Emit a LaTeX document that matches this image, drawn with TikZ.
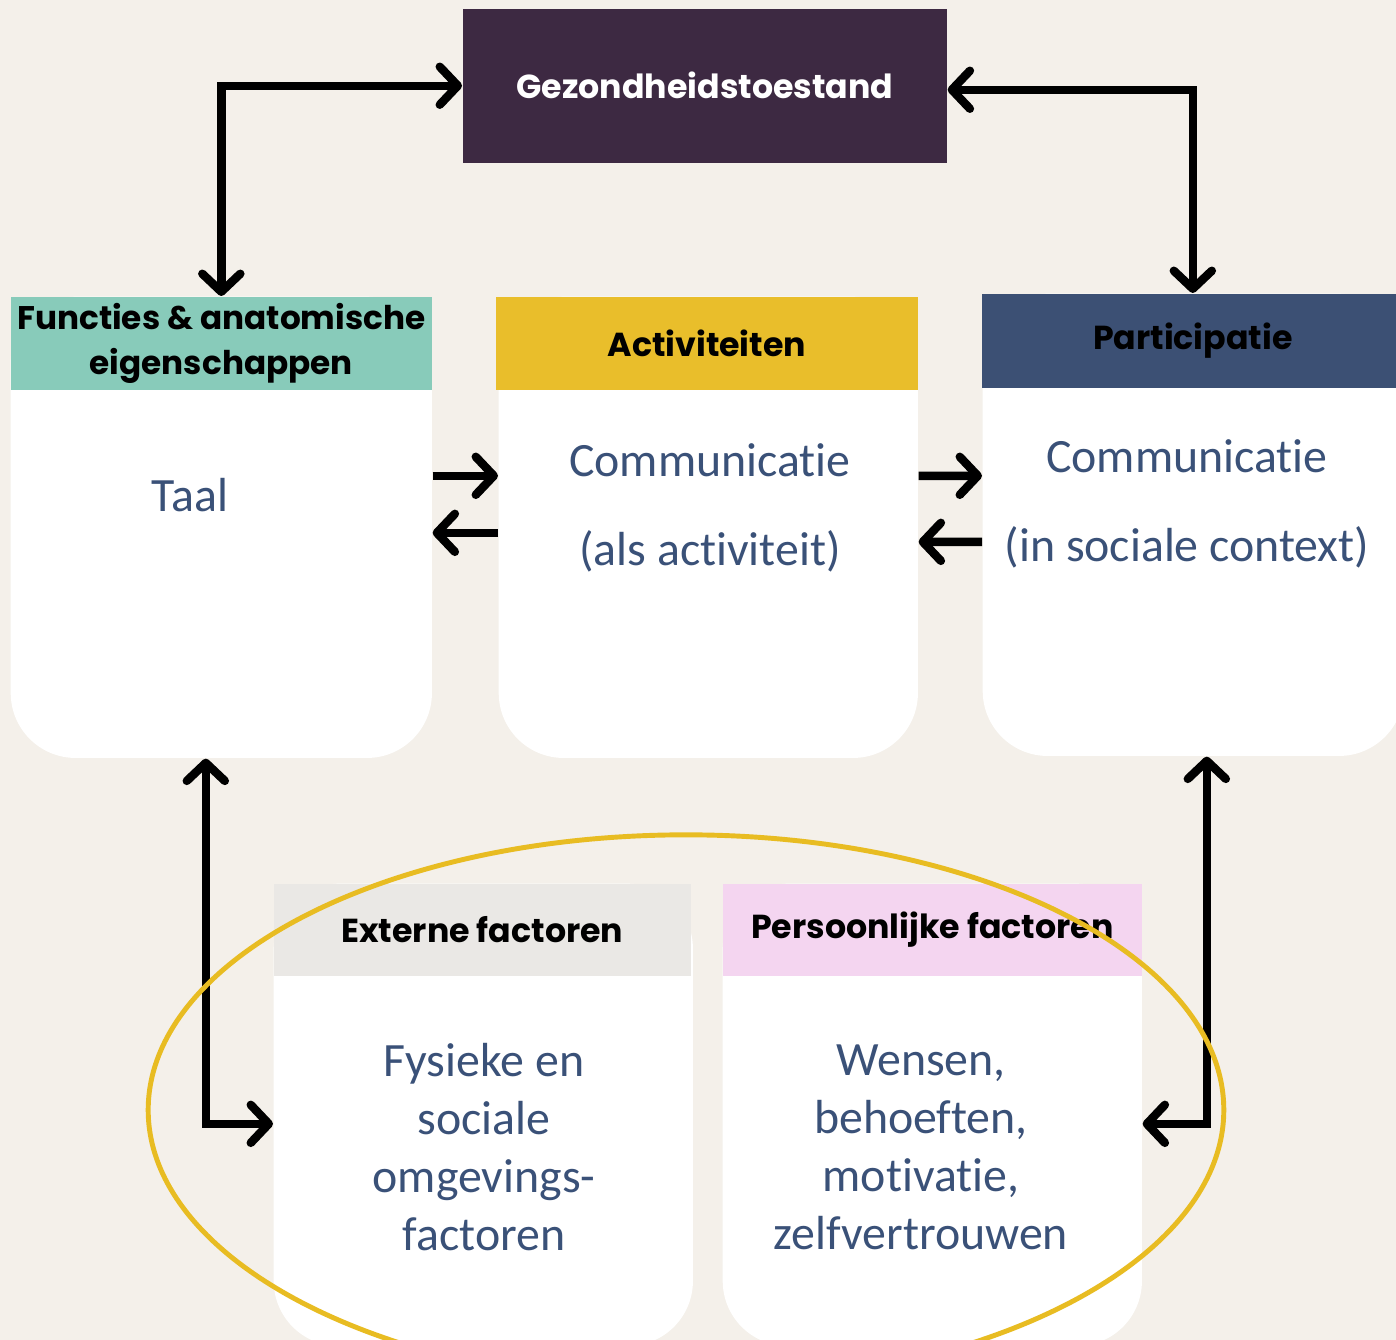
\documentclass[tikz,border=0pt]{standalone}
\usepackage{fontspec}
\setmainfont{Carlito}[Ligatures=NoCommon]
\newfontfamily\headfont{Poppins}
\usetikzlibrary{arrows.meta}
\usetikzlibrary{positioning}
\definecolor{bgbeige}{HTML}{F4F0EA}
\definecolor{healthpurple}{HTML}{3D2942}
\definecolor{functeal}{HTML}{88CBBA}
\definecolor{actyellow}{HTML}{E9BE2B}
\definecolor{partnavy}{HTML}{3C5074}
\definecolor{extgray}{HTML}{EAE8E5}
\definecolor{perspink}{HTML}{F4D5F0}
\definecolor{textblue}{HTML}{3A5178}
\definecolor{ringyellow}{HTML}{E8BC22}
\tikzset{
	card/.style={fill=white, rounded corners=0.65cm, anchor=north west, inner sep=0pt},
	head/.style={anchor=north west, inner sep=0pt, minimum height=0.93cm, align=center,
		font=\headfont\bfseries\fontsize{9.45}{12.8}\selectfont},
	bodytext/.style={text=textblue, align=center, font=\fontsize{13.6}{16.5}\selectfont},
	barb/.tip={Straight Barb[length=1.8mm,width=3.8mm,line cap=round,line join=round]},
	flow/.style={line width=2.4pt, -barb},
	twoway/.style={line width=2.4pt, barb-barb},
	ring/.style={draw=ringyellow, line width=1.4pt},
}
\begin{document}
\begin{tikzpicture}[x=0.01cm, y=-0.01cm]
		\useasboundingbox (0,0) rectangle (1396,1340);
		\clip (0,0) rectangle (1396,1340);
		\fill[bgbeige] (0,0) rectangle (1396,1340);
		% top box
		\node[anchor=north west, fill=healthpurple, text=white, minimum width=4.84cm, minimum height=1.54cm,
			font=\headfont\bfseries\fontsize{9.45}{12}\selectfont] (gezond) at (462,8) {Gezondheidstoestand};
		% middle row
		\node[card, minimum width=4.21cm, minimum height=4.61cm] (funcbody) at (10,296) {};
		\node[head, fill=functeal, minimum width=4.21cm, font=\headfont\bfseries\fontsize{9.3}{12.8}\selectfont] (funchead) at (10,296) {Functies \& anatomische\\eigenschappen};
		\node[card, minimum width=4.19cm, minimum height=4.61cm] (actbody) at (498,296) {};
		\node[head, fill=actyellow, minimum width=4.22cm] (acthead) at (495,296) {Activiteiten};
		\node[card, minimum width=4.21cm, minimum height=4.62cm] (partbody) at (982,293) {};
		\node[head, fill=partnavy, minimum width=4.22cm, minimum height=0.94cm] (parthead) at (981,293) {Participatie};
		\node[bodytext] (taal) at (190,495) {Taal};
		\node[bodytext, font=\fontsize{13.6}{25.3}\selectfont] (actcomm) at (710,508) {Communicatie\\(als activiteit)};
		\node[bodytext, font=\fontsize{13.6}{25.3}\selectfont] (partcomm) at (1187,504) {Communicatie\\(in sociale context)};
		% bottom row
		\node[card, minimum width=4.19cm, minimum height=4.62cm] (extbody) at (273,883) {};
		\node[head, fill=extgray, minimum width=4.17cm, minimum height=0.92cm] (exthead) at (273,883) {Externe factoren};
		\node[card, minimum width=4.19cm, minimum height=4.62cm] (persbody) at (722,883) {};
		\node[head, fill=perspink, minimum width=4.19cm, minimum height=0.92cm] (pershead) at (722,883) {Persoonlijke factoren};
		\node[bodytext] (exttext) at (484,1147) {Fysieke en\\sociale\\omgevings-\\factoren};
		\node[bodytext] (perstext) at (921,1147) {Wensen,\\behoeften,\\motivatie,\\zelfvertrouwen};
		% connectors
		\draw[twoway] (funchead.north) |- (gezond.west);
		\draw[twoway] (parthead.north) |- ([yshift=-0.04cm]gezond.east);
		\draw[flow] ([yshift=0.515cm]funcbody.east) -- ([yshift=0.515cm]actbody.west);
		\draw[flow] ([yshift=-0.055cm]actbody.west) -- ([yshift=-0.055cm]funcbody.east);
		\draw[flow] ([yshift=0.515cm]actbody.east) -- ([yshift=0.49cm]partbody.west);
		\draw[flow] ([yshift=-0.17cm]partbody.west) -- ([yshift=-0.145cm]actbody.east);
		\draw[twoway] ([xshift=-0.155cm]funcbody.south) |- ([yshift=-0.09cm]extbody.west);
		\draw[twoway] ([xshift=0.135cm]partbody.south) |- ([yshift=-0.09cm]persbody.east);
		% ring round the factors
		\draw[ring] (686,1110) ellipse [x radius=5.375cm, y radius=2.75cm];
\end{tikzpicture}
\end{document}
